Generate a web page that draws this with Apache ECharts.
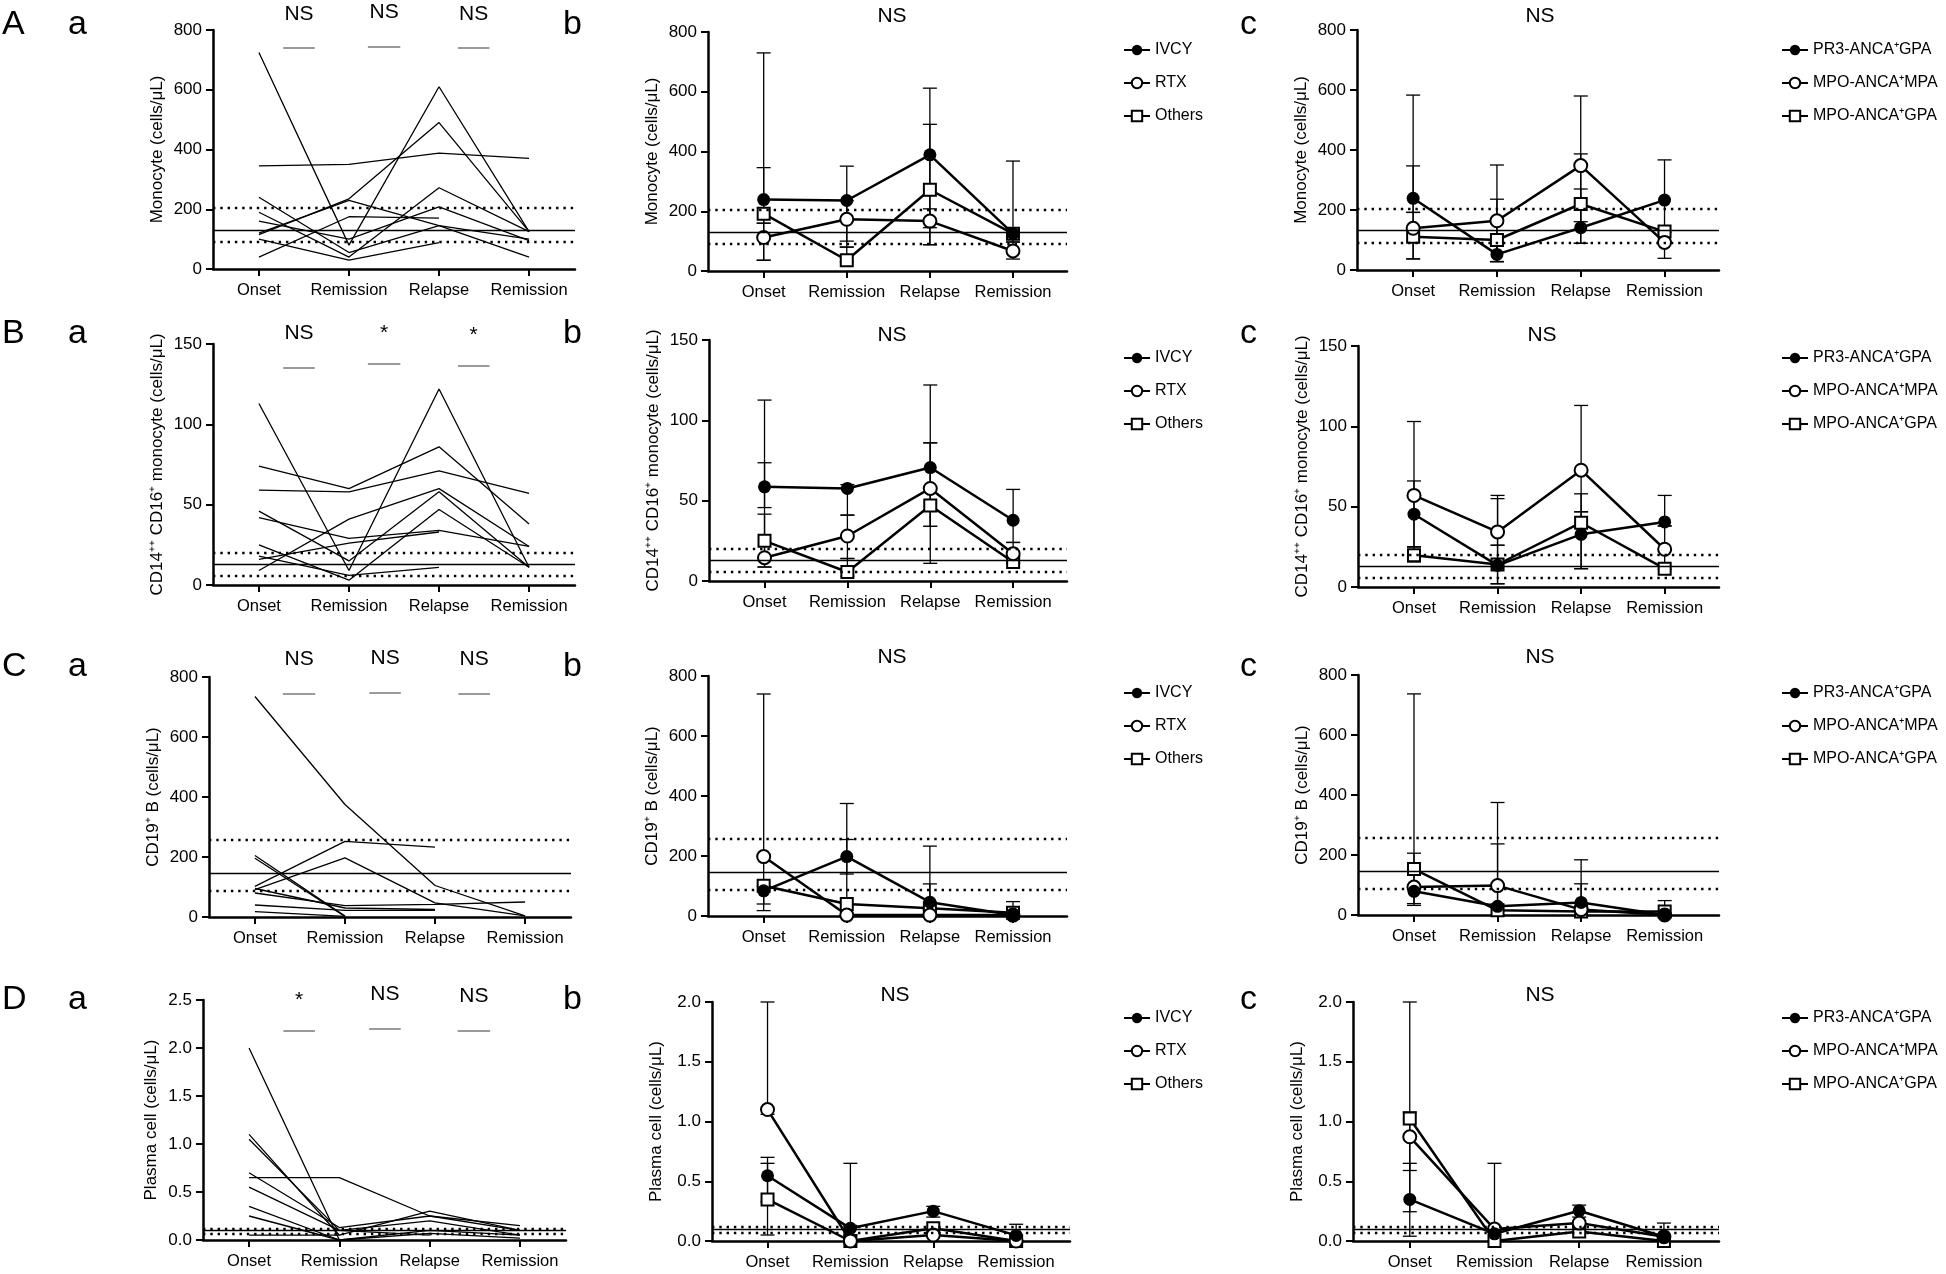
<!DOCTYPE html>
<html><head><meta charset="utf-8">
<script src="https://cdn.jsdelivr.net/npm/echarts@6/dist/echarts.min.js"></script>
<style>html,body{margin:0;padding:0;background:#fff}#c{width:1946px;height:1274px}</style>
</head><body><div id="c"></div>
<script>
const FONT = '"Liberation Sans", Arial, Helvetica, sans-serif';
const categories = ['Onset', 'Remission', 'Relapse', 'Remission'];
const txNames = ['IVCY', 'RTX', 'Others'];
const dxNames = ['PR3-ANCA⁺GPA', 'MPO-ANCA⁺MPA', 'MPO-ANCA⁺GPA'];
const rowLetters = ['A', 'B', 'C', 'D'];
const yNames = ['Monocyte (cells/μL)', 'CD14⁺⁺ CD16⁺ monocyte (cells/μL)', 'CD19⁺ B (cells/μL)', 'Plasma cell (cells/μL)'];

// ---- Row A: Monocyte ----
const monoIndividual = [
  [725, 80, 610, 125], [345, 350, 388, 370], [115, 235, 490, 125], [120, 230, 145, 40],
  [240, 55, 145, 100], [190, 40, 272, 125], [160, 100, 208, 95], [100, 30, 88, null], [40, 175, 170, null]
];
const monoRef = [131, 205, 92];
const monoSigText = ['NS', 'NS', 'NS'];
const monoSigValue = [739, 743, 739];
const monoTxIVCY = [239, 236, 389, 125];
const monoTxRTX = [112, 173, 167, 67];
const monoTxOthers = [192, 36, 272, 125];
const monoTxIVCYRange = [[160, 346], [80, 351], [145, 612], [97, 368]];
const monoTxRTXRange = [[36, 160], [100, 235], [88, 208], [40, 97]];
const monoTxOthersRange = [[36, 730], [30, 80], [88, 491], null];
const monoDxPR3 = [239, 52, 141, 233];
const monoDxMPA = [139, 164, 348, 92];
const monoDxGPA = [111, 100, 220, 128];
const monoDxPR3Range = [[192, 347], [28, 80], [89, 387], [97, 367]];
const monoDxMPARange = [[37, 583], [28, 350], [89, 580], [39, 125]];
const monoDxGPARange = [[37, 192], [28, 236], [161, 270], null];

// ---- Row B: CD14++ CD16+ monocyte ----
const cd16Individual = [
  [113, 9, 122, 11], [74, 60, 86, 38], [59, 58, 71, 57], [46, 15, 58, 11], [42, 29, 34, 24],
  [25, 3, 47, 11], [9, 41, 60, 24], [18, 6, 11, null], [16, 26, 33, null]
];
const cd16Ref = [13, 20, 6];
const cd16SigText = ['NS', '*', '*'];
const cd16SigValue = [135, 138, 136.5];
const cd16TxIVCY = [58.6, 57.6, 70.6, 37.8];
const cd16TxRTX = [14.5, 28, 57.6, 17];
const cd16TxOthers = [25, 5.6, 47, 11.8];
const cd16TxIVCYRange = [[45.7, 73.6], [41, 60], [34, 86], [24, 57]];
const cd16TxRTXRange = [[8.7, 41.6], [14, 41], [11, 122], [11, 24]];
const cd16TxOthersRange = [[8.7, 112.6], [3, 14], [34, 86], [11, 15]];
const cd16DxPR3 = [45.3, 13.5, 32.8, 40.5];
const cd16DxMPA = [57, 34.3, 72.7, 23.5];
const cd16DxGPA = [19.7, 14, 40, 11.4];
const cd16DxPR3Range = [[25, 66], [2, 26], [11.4, 58], [38, 57]];
const cd16DxMPARange = [[25, 103], [26, 57], [46.8, 113], [11, 38]];
const cd16DxGPARange = [[15.6, 25], [2, 55], [11.4, 46.8], null];

// ---- Row C: CD19+ B ----
const cd19Individual = [
  [735, 375, 105, 4], [102, 252, 233, null], [91, 197, 47, 4], [205, 3, null, null], [196, 2, null, null],
  [80, 38, 42, 50], [95, 30, 25, null], [40, 22, 22, null], [18, 2, null, null]
];
const cd19Ref = [145, 257, 86];
const cd19SigText = ['NS', 'NS', 'NS'];
const cd19SigValue = [743, 749, 743];
const cd19TxIVCY = [84, 198, 46, 3];
const cd19TxRTX = [198, 3, 3, 3];
const cd19TxOthers = [101, 40, 25.5, 11];
const cd19TxIVCYRange = [[18, 100], [140, 255], [20, 107], [0, 48]];
const cd19TxRTXRange = [null, null, null, null];
const cd19TxOthersRange = [[40, 740], [2, 375], [20, 233], null];
const cd19DxPR3 = [79, 29, 42, 0];
const cd19DxMPA = [93, 98, 18, 0];
const cd19DxGPA = [153, 15.5, 12, 12];
const cd19DxPR3Range = [[32, 206], [0, 237], [0, 184], [0, 48]];
const cd19DxMPARange = [null, [0, 375], null, null];
const cd19DxGPARange = [[38, 737], null, [0, 104], null];

// ---- Row D: Plasma cell ----
const plasmaIndividual = [
  [2.0, 0.0, 0.1, 0.05], [1.1, 0.05, 0.3, 0.1], [1.05, 0.1, 0.2, 0.05], [0.7, 0.13, 0.25, 0.15],
  [0.65, 0.65, 0.25, 0.1], [0.55, 0.1, 0.05, null], [0.35, 0.0, 0.07, 0.02], [0.25, 0.0, null, null], [0.05, 0.05, null, null]
];
const plasmaRef = [0.1, 0.12, 0.075];
const plasmaSigText = ['*', 'NS', 'NS'];
const plasmaSigValue = [2.177, 2.198, 2.18];
const plasmaTxIVCY = [0.546, 0.106, 0.25, 0.047];
const plasmaTxRTX = [1.10, 0.0, 0.05, 0.0];
const plasmaTxOthers = [0.348, 0.0, 0.106, 0.0];
const plasmaTxIVCYRange = [[0.33, 0.7], [0.05, 0.65], [0.2, 0.29], [0, 0.14]];
const plasmaTxRTXRange = [[1.06, 2.0], null, null, null];
const plasmaTxOthersRange = [[0.05, 0.65], [0, 0.13], null, null];
const plasmaDxPR3 = [0.348, 0.06, 0.253, 0.036];
const plasmaDxMPA = [0.872, 0.1, 0.15, 0.036];
const plasmaDxGPA = [1.025, 0.0, 0.08, 0.0];
const plasmaDxPR3Range = [[0.245, 0.65], null, [0.2, 0.3], null];
const plasmaDxMPARange = [[0.04, 2.0], [0, 0.65], null, [0, 0.15]];
const plasmaDxGPARange = [[0.59, 1.08], null, null, null];

// ---- assemble ----
const rows = [
  {ind: monoIndividual, ref: monoRef, sigText: monoSigText, sigValue: monoSigValue, maxA: 800, maxB: 800, interval: 200, dec: 0,
   tx: [monoTxIVCY, monoTxRTX, monoTxOthers], txR: [monoTxIVCYRange, monoTxRTXRange, monoTxOthersRange],
   dx: [monoDxPR3, monoDxMPA, monoDxGPA], dxR: [monoDxPR3Range, monoDxMPARange, monoDxGPARange]},
  {ind: cd16Individual, ref: cd16Ref, sigText: cd16SigText, sigValue: cd16SigValue, maxA: 150, maxB: 150, interval: 50, dec: 0,
   tx: [cd16TxIVCY, cd16TxRTX, cd16TxOthers], txR: [cd16TxIVCYRange, cd16TxRTXRange, cd16TxOthersRange],
   dx: [cd16DxPR3, cd16DxMPA, cd16DxGPA], dxR: [cd16DxPR3Range, cd16DxMPARange, cd16DxGPARange]},
  {ind: cd19Individual, ref: cd19Ref, sigText: cd19SigText, sigValue: cd19SigValue, maxA: 800, maxB: 800, interval: 200, dec: 0,
   tx: [cd19TxIVCY, cd19TxRTX, cd19TxOthers], txR: [cd19TxIVCYRange, cd19TxRTXRange, cd19TxOthersRange],
   dx: [cd19DxPR3, cd19DxMPA, cd19DxGPA], dxR: [cd19DxPR3Range, cd19DxMPARange, cd19DxGPARange]},
  {ind: plasmaIndividual, ref: plasmaRef, sigText: plasmaSigText, sigValue: plasmaSigValue, maxA: 2.5, maxB: 2.0, interval: 0.5, dec: 1,
   tx: [plasmaTxIVCY, plasmaTxRTX, plasmaTxOthers], txR: [plasmaTxIVCYRange, plasmaTxRTXRange, plasmaTxOthersRange],
   dx: [plasmaDxPR3, plasmaDxMPA, plasmaDxGPA], dxR: [plasmaDxPR3Range, plasmaDxMPARange, plasmaDxGPARange]}
];

// layout (pixels)
const panelLayout = [
  [{left: 213, top: 30, width: 362, height: 239}, {left: 708, top: 32, width: 359, height: 239}, {left: 1357, top: 30, width: 362, height: 240}],
  [{left: 213, top: 344, width: 362, height: 241}, {left: 709, top: 340, width: 358, height: 241}, {left: 1358, top: 346, width: 361, height: 241}],
  [{left: 209, top: 677, width: 362, height: 240}, {left: 708, top: 676, width: 359, height: 240}, {left: 1358, top: 675, width: 361, height: 240}],
  [{left: 203, top: 1000, width: 363, height: 240}, {left: 712, top: 1002, width: 358, height: 239}, {left: 1353, top: 1002, width: 366, height: 239}]
];
const sigXLayout = [
  [[0.27, 0.62], [1.21, 1.57], [2.21, 2.56]],
  [[0.27, 0.62], [1.21, 1.57], [2.21, 2.56]],
  [[0.31, 0.67], [1.27, 1.62], [2.26, 2.61]],
  [[0.38, 0.73], [1.33, 1.68], [2.31, 2.67]]
];
const titleY = [16, 335, 657, 995];
const titleX = [[892, 1540], [892, 1542], [892, 1540], [895, 1540]];
const letterBaseY = [25, 334, 667, 1000];
const legendTop = [37, 345, 680, 1005];
const symbols = ['circle', 'emptyCircle', 'emptyRect'];

const grids = [], xAxes = [], yAxes = [], series = [], graphics = [], legends = [];
const axisLineStyle = {color: '#000', width: 2.5};

rows.forEach((row, r) => {
  for (let c = 0; c < 3; c++) {
    const gi = r * 3 + c;
    const L = panelLayout[r][c];
    grids.push({left: L.left, top: L.top, width: L.width, height: L.height, containLabel: false});
    xAxes.push({
      gridIndex: gi, type: 'value',
      min: c === 0 ? -0.51 : -0.67, max: c === 0 ? 3.51 : 3.65,
      axisLine: {show: true, onZero: false, lineStyle: axisLineStyle},
      axisTick: {show: true, customValues: [0, 1, 2, 3], length: 7, lineStyle: {color: '#000', width: 2}},
      axisLabel: {show: true, customValues: [0, 1, 2, 3], formatter: v => categories[Math.round(v)] || '',
        color: '#000', fontSize: 16.5, fontFamily: FONT, margin: 13},
      splitLine: {show: false}
    });
    const max = c === 0 ? row.maxA : row.maxB;
    yAxes.push({
      gridIndex: gi, type: 'value', min: 0, max: max, interval: row.interval,
      axisLine: {show: true, onZero: false, lineStyle: axisLineStyle},
      axisTick: {show: true, length: 7, lineStyle: {color: '#000', width: 2}},
      axisLabel: {color: '#000', fontSize: 17, fontFamily: FONT, margin: 11,
        formatter: v => row.dec ? v.toFixed(row.dec) : String(v)},
      splitLine: {show: false},
      name: yNames[r], nameLocation: 'middle', nameGap: r === 3 && c === 0 ? 43 : 47,
      nameTextStyle: {color: '#000', fontSize: 17, fontFamily: FONT}
    });

    const dotted = {type: [2.4, 4.9], width: 2.4, color: '#000'};
    const refLines = [
      {yAxis: row.ref[0], lineStyle: {type: 'solid', width: 1.3, color: '#000'}},
      {yAxis: row.ref[1], lineStyle: dotted},
      {yAxis: row.ref[2], lineStyle: dotted}
    ];

    if (c === 0) {
      const sigLines = row.sigText.map((t, k) => [
        {coord: [sigXLayout[r][k][0], row.sigValue[k]],
         lineStyle: {color: '#9a9a9a', width: 2, type: 'solid'},
         label: {show: true, formatter: t, position: 'insideMiddleTop', distance: t === '*' ? 20 : 24,
           color: '#000', fontSize: 21, fontFamily: FONT}},
        {coord: [sigXLayout[r][k][1], row.sigValue[k]]}
      ]);
      row.ind.forEach((vals, k) => {
        const s = {
          type: 'line', name: 'p' + r + '_' + k, xAxisIndex: gi, yAxisIndex: gi,
          data: vals.map((v, i) => [i, v]).filter(p => p[1] != null),
          symbol: 'none', lineStyle: {color: '#000', width: 1.3}, z: 2, silent: true
        };
        if (k === 0) s.markLine = {silent: true, symbol: ['none', 'none'], label: {show: false}, data: refLines.concat(sigLines)};
        series.push(s);
      });
    } else {
      const vals = c === 1 ? row.tx : row.dx;
      const ranges = c === 1 ? row.txR : row.dxR;
      const names = c === 1 ? txNames : dxNames;
      vals.forEach((v, k) => {
        const eb = [];
        ranges[k].forEach((rg, i) => { if (rg) eb.push([i, rg[0], rg[1]]); });
        series.push({
          type: 'custom', name: names[k] + ' range', xAxisIndex: gi, yAxisIndex: gi, z: 1, silent: true,
          data: eb, encode: {x: 0, y: [1, 2]},
          renderItem: (params, api) => {
            const x = api.value(0);
            const lo = api.coord([x, api.value(1)]);
            const hi = api.coord([x, api.value(2)]);
            const hw = 7, st = {stroke: '#000', lineWidth: 1.3};
            return {type: 'group', children: [
              {type: 'line', shape: {x1: lo[0], y1: lo[1], x2: hi[0], y2: hi[1]}, style: st},
              {type: 'line', shape: {x1: lo[0] - hw, y1: lo[1], x2: lo[0] + hw, y2: lo[1]}, style: st},
              {type: 'line', shape: {x1: hi[0] - hw, y1: hi[1], x2: hi[0] + hw, y2: hi[1]}, style: st}
            ]};
          }
        });
      });
      vals.forEach((v, k) => {
        const s = {
          type: 'line', name: names[k], xAxisIndex: gi, yAxisIndex: gi,
          data: v.map((y, i) => [i, y]),
          symbol: symbols[k], symbolSize: k === 2 ? 12 : 13,
          lineStyle: {color: '#000', width: 2.5},
          itemStyle: {color: '#000', borderColor: '#000', borderWidth: k === 0 ? 0 : 2.5},
          z: 3 + (2 - k)
        };
        if (k === 0) s.markLine = {silent: true, symbol: ['none', 'none'], label: {show: false}, data: refLines};
        series.push(s);
      });
      graphics.push({type: 'text', x: titleX[r][c - 1], y: titleY[r], silent: true,
        style: {text: 'NS', fontSize: 21, fontFamily: FONT, fill: '#000', align: 'center', verticalAlign: 'middle', textAlign: 'center', textVerticalAlign: 'middle'}});
      legends.push({
        data: names, orient: 'vertical', left: c === 1 ? 1118 : 1776, top: legendTop[r],
        itemGap: 17, itemWidth: 26, itemHeight: 13, selectedMode: false,
        textStyle: {color: '#000', fontSize: 16, fontFamily: FONT}
      });
    }
  }
  const letters = [[rowLetters[r], 2], ['a', 68], ['b', 563], ['c', 1240]];
  letters.forEach(([t, x]) => graphics.push({type: 'text', x: x, y: letterBaseY[r], silent: true,
    style: {text: t, fontSize: 34, fontFamily: FONT, fill: '#000', align: 'left', verticalAlign: 'middle', textAlign: 'left', textVerticalAlign: 'middle'}}));
});

const chart = echarts.init(document.getElementById('c'), null, {renderer: 'canvas', width: 1946, height: 1274});
chart.setOption({
  animation: false,
  backgroundColor: '#fff',
  textStyle: {fontFamily: FONT},
  grid: grids, xAxis: xAxes, yAxis: yAxes, series: series, legend: legends, graphic: graphics
});
</script></body></html>
